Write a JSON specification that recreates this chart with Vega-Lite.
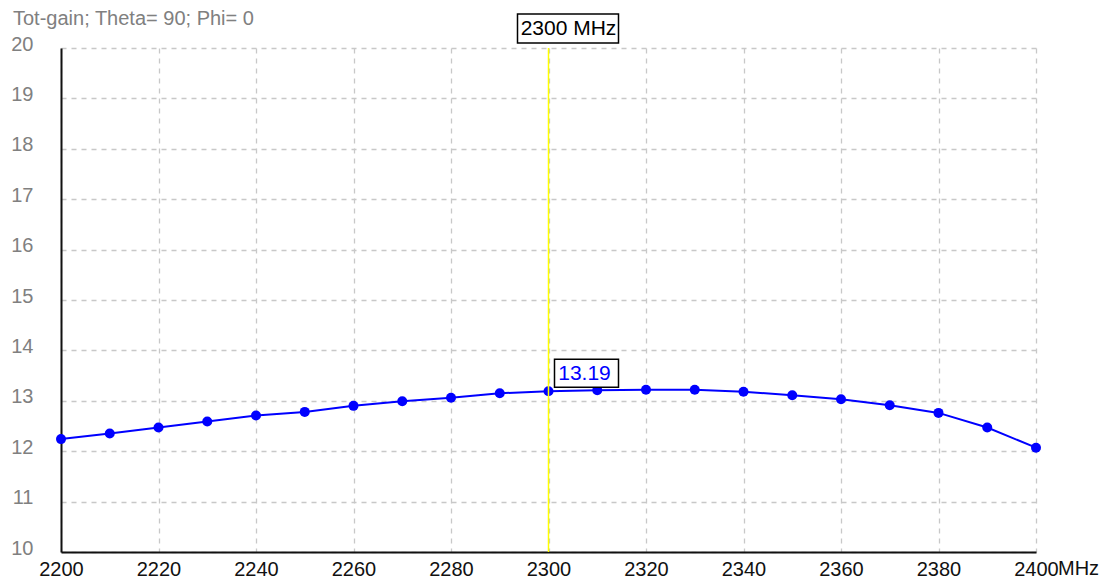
{
  "$schema": "https://vega.github.io/schema/vega-lite/v6.json",
  "width": 975,
  "height": 504,
  "autosize": {"type": "none"},
  "padding": {"left": 61, "top": 48, "right": 69, "bottom": 36},
  "background": "white",
  "config": {"view": {"stroke": null}},
  "layer": [
    {
      "data": {"values": [
        {"freq": 2200, "gain": 12.24},
        {"freq": 2210, "gain": 12.35},
        {"freq": 2220, "gain": 12.47},
        {"freq": 2230, "gain": 12.59},
        {"freq": 2240, "gain": 12.71},
        {"freq": 2250, "gain": 12.78},
        {"freq": 2260, "gain": 12.90},
        {"freq": 2270, "gain": 12.99},
        {"freq": 2280, "gain": 13.06},
        {"freq": 2290, "gain": 13.15},
        {"freq": 2300, "gain": 13.19},
        {"freq": 2310, "gain": 13.21},
        {"freq": 2320, "gain": 13.22},
        {"freq": 2330, "gain": 13.22},
        {"freq": 2340, "gain": 13.18},
        {"freq": 2350, "gain": 13.11},
        {"freq": 2360, "gain": 13.03},
        {"freq": 2370, "gain": 12.91},
        {"freq": 2380, "gain": 12.76},
        {"freq": 2390, "gain": 12.47},
        {"freq": 2400, "gain": 12.07}
      ]},
      "layer": [
        {
          "mark": {"type": "line", "color": "#0000ff", "strokeWidth": 2},
          "encoding": {
            "x": {
              "field": "freq", "type": "quantitative", "title": null,
              "scale": {"domain": [2200, 2400], "nice": false, "zero": false},
              "axis": {
                "title": null,
                "values": [2200, 2220, 2240, 2260, 2280, 2300, 2320, 2340, 2360, 2380, 2400],
                "format": "d",
                "grid": true, "gridColor": "#c8c8c8", "gridDash": [5, 5], "gridWidth": 1.3,
                "ticks": false, "labelPadding": 7, "labelFlush": false,
                "labelFont": "Liberation Sans", "labelFontSize": 20, "labelColor": "#111111",
                "domainColor": "#111111", "domainWidth": 2
              }
            },
            "y": {
              "field": "gain", "type": "quantitative", "title": null,
              "scale": {"domain": [10, 20], "nice": false, "zero": false},
              "axis": {
                "title": null,
                "values": [10, 11, 12, 13, 14, 15, 16, 17, 18, 19, 20],
                "grid": true, "gridColor": "#c8c8c8", "gridDash": [5, 5], "gridWidth": 1.3,
                "ticks": false, "labelPadding": 28, "labelFlush": false, "labelOffset": -4,
                "labelFont": "Liberation Sans", "labelFontSize": 20, "labelColor": "#808080",
                "domainColor": "#111111", "domainWidth": 2
              }
            }
          }
        },
        {
          "mark": {"type": "point", "filled": true, "color": "#0000ff", "size": 100, "opacity": 1},
          "encoding": {
            "x": {"field": "freq", "type": "quantitative", "title": null},
            "y": {"field": "gain", "type": "quantitative", "title": null}
          }
        }
      ]
    },
    {
      "data": {"values": [{"freq": 2300, "gain": 13.19, "flabel": "2300 MHz", "glabel": "13.19"}]},
      "layer": [
        {
          "mark": {"type": "rule", "color": "#ffff00", "strokeWidth": 1.5},
          "encoding": {
            "x": {"field": "freq", "type": "quantitative", "title": null},
            "y": {"datum": 20, "type": "quantitative", "title": null},
            "y2": {"datum": 10}
          }
        },
        {
          "mark": {"type": "rect", "fill": "white", "stroke": "#000000", "strokeWidth": 1.5,
                   "xOffset": -31, "x2Offset": 70, "yOffset": -34, "y2Offset": -5},
          "encoding": {
            "x": {"field": "freq", "type": "quantitative", "title": null},
            "x2": {"field": "freq"},
            "y": {"datum": 20, "type": "quantitative", "title": null},
            "y2": {"datum": 20}
          }
        },
        {
          "mark": {"type": "text", "font": "Liberation Sans", "fontSize": 21, "color": "#000000",
                   "align": "center", "baseline": "middle", "dx": 20, "dy": -19},
          "encoding": {
            "x": {"field": "freq", "type": "quantitative", "title": null},
            "y": {"datum": 20, "type": "quantitative", "title": null},
            "text": {"field": "flabel"}
          }
        },
        {
          "mark": {"type": "rect", "fill": "white", "stroke": "#000000", "strokeWidth": 1.5,
                   "xOffset": 6, "x2Offset": 70, "yOffset": -32, "y2Offset": -4},
          "encoding": {
            "x": {"field": "freq", "type": "quantitative", "title": null},
            "x2": {"field": "freq"},
            "y": {"field": "gain", "type": "quantitative", "title": null},
            "y2": {"field": "gain"}
          }
        },
        {
          "mark": {"type": "text", "font": "Liberation Sans", "fontSize": 21, "color": "#0000ff",
                   "align": "center", "baseline": "middle", "dx": 36, "dy": -17},
          "encoding": {
            "x": {"field": "freq", "type": "quantitative", "title": null},
            "y": {"field": "gain", "type": "quantitative", "title": null},
            "text": {"field": "glabel"}
          }
        }
      ]
    },
    {
      "data": {"values": [{"freq": 2400, "gain": 10, "unit": "MHz"}]},
      "mark": {"type": "text", "font": "Liberation Sans", "fontSize": 20, "color": "#111111",
               "align": "left", "baseline": "top", "dx": 22, "dy": 7},
      "encoding": {
        "x": {"field": "freq", "type": "quantitative", "title": null},
        "y": {"field": "gain", "type": "quantitative", "title": null},
        "text": {"field": "unit"}
      }
    },
    {
      "data": {"values": [{"freq": 2200, "gain": 20, "caption": "Tot-gain; Theta= 90; Phi= 0"}]},
      "mark": {"type": "text", "font": "Liberation Sans", "fontSize": 20, "color": "#808080",
               "align": "left", "baseline": "alphabetic", "dx": -48, "dy": -23},
      "encoding": {
        "x": {"field": "freq", "type": "quantitative", "title": null},
        "y": {"field": "gain", "type": "quantitative", "title": null},
        "text": {"field": "caption"}
      }
    }
  ]
}
